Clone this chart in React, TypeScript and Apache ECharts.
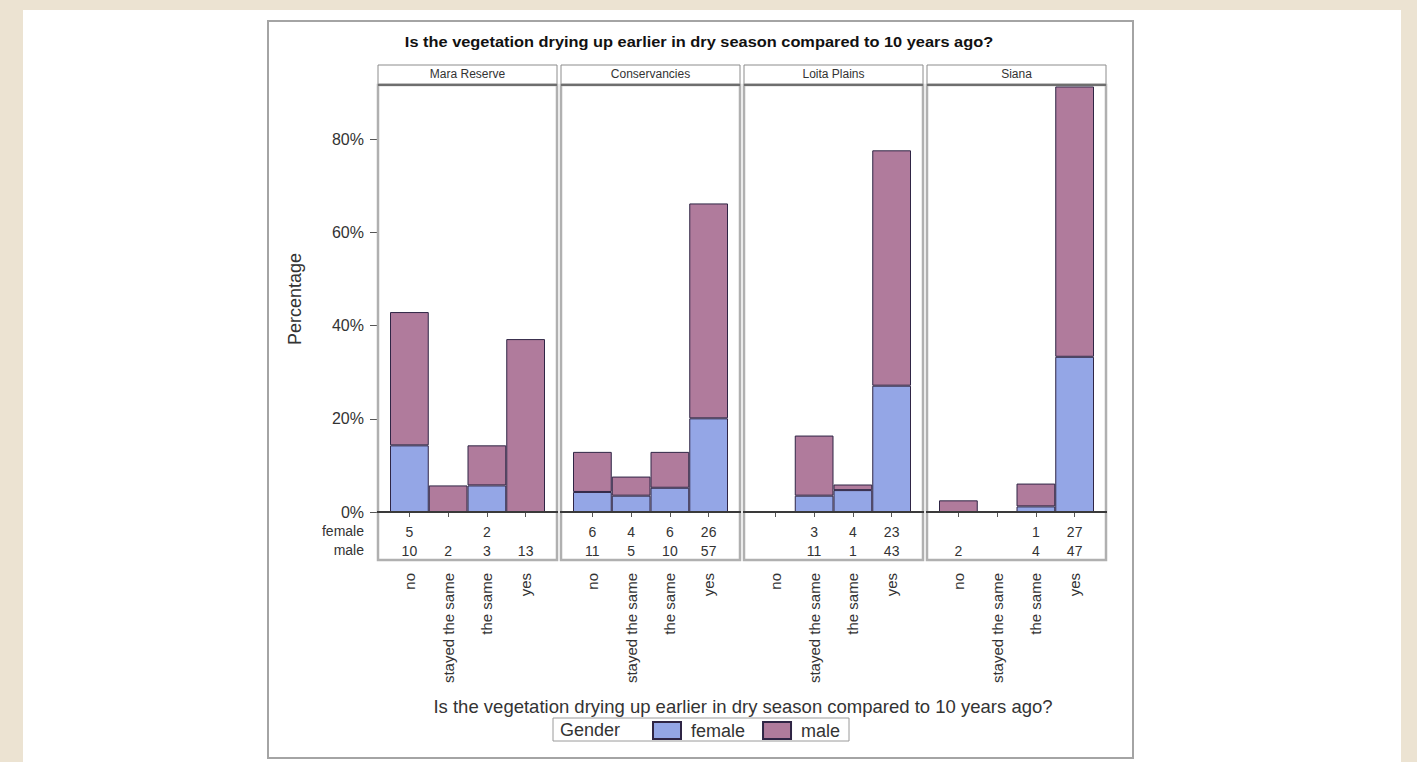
import React, { useEffect, useRef } from "react";
import * as echarts from "echarts";

const panels = ["Mara Reserve", "Conservancies", "Loita Plains", "Siana"];
const categories = ["no", "stayed the same", "the same", "yes"];

// percentages (per panel, per category)
const femalePct: (number | null)[][] = [
  [14.3, null, 5.7, null],
  [4.3, 3.5, 5.2, 20.1],
  [null, 3.5, 4.7, 27.1],
  [null, null, 1.2, 33.3],
];
const malePct: (number | null)[][] = [
  [28.6, 5.7, 8.6, 37.1],
  [8.6, 4.1, 7.7, 46.1],
  [null, 12.9, 1.2, 50.5],
  [2.5, null, 4.9, 58.0],
];

// counts printed under the bars
const femaleCount: (number | null)[][] = [
  [5, null, 2, null],
  [6, 4, 6, 26],
  [null, 3, 4, 23],
  [null, null, 1, 27],
];
const maleCount: (number | null)[][] = [
  [10, 2, 3, 13],
  [11, 5, 10, 57],
  [null, 11, 1, 43],
  [2, null, 4, 47],
];

const yTicks = [0, 20, 40, 60, 80];
const Y_MAX = 91.4;
const TITLE = "Is the vegetation drying up earlier in dry season compared to 10 years ago?";
const X_TITLE = "Is the vegetation drying up earlier in dry season compared to 10 years ago?";

const FEMALE = "#94a6e6";
const MALE = "#b07b9c";
const EDGE = "#2f2545";
const FONT = "'Liberation Sans', Arial, sans-serif";

const PANEL_LEFT = [378, 561, 744, 927];
const PANEL_W = 179;
const PAD = 12;
const HEADER_TOP = 65;
const PLOT_TOP = 86;
const BASE_Y = 512;
const TABLE_BOTTOM = 560;

export default function App() {
  const ref = useRef<HTMLDivElement>(null);
  useEffect(() => {
    if (!ref.current) return;
    const chart = echarts.init(ref.current, null, { renderer: "svg" });

    const grids = panels.map((_, i) => ({
      left: PANEL_LEFT[i] + PAD,
      top: PLOT_TOP,
      width: PANEL_W - 2 * PAD,
      height: BASE_Y - PLOT_TOP,
    }));

    const xAxes: any[] = [];
    panels.forEach((_, i) => {
      xAxes.push({
        type: "category",
        gridIndex: i,
        data: categories,
        position: "bottom",
        offset: TABLE_BOTTOM - BASE_Y,
        axisLine: { show: false },
        axisTick: { show: true, alignWithLabel: true, length: 5, lineStyle: { color: "#555" } },
        axisLabel: { rotate: 90, interval: 0, fontSize: 15, color: "#333", margin: 13, fontFamily: FONT },
      });
      xAxes.push({
        type: "category",
        gridIndex: i,
        data: categories,
        position: "bottom",
        offset: 0,
        axisLine: { show: false },
        axisTick: { show: false },
        axisLabel: {
          interval: 0,
          margin: 10,
          fontSize: 14,
          lineHeight: 19,
          color: "#333",
          fontFamily: FONT,
          formatter: (_v: string, idx: number) => {
            const f = femaleCount[i][idx];
            const m = maleCount[i][idx];
            return `${f == null ? " " : f}\n${m == null ? " " : m}`;
          },
        },
      });
    });

    const yAxes = panels.map((_, i) => ({
      type: "value",
      gridIndex: i,
      min: 0,
      max: Y_MAX,
      offset: PAD,
      splitLine: { show: false },
      axisLine: { show: false },
      axisTick: {
        show: i === 0,
        length: 8,
        customValues: yTicks,
        lineStyle: { color: "#555" },
      },
      axisLabel: {
        show: i === 0,
        customValues: yTicks,
        formatter: (v: number) => `${v}%`,
        fontSize: 16,
        color: "#333",
        margin: 14,
        fontFamily: FONT,
      },
      name: i === 0 ? "Percentage" : "",
      nameLocation: "middle",
      nameRotate: 90,
      nameGap: 74,
      nameTextStyle: { fontSize: 18, color: "#333", fontFamily: FONT },
    }));

    const series: any[] = [];
    panels.forEach((_, i) => {
      series.push({
        type: "bar",
        name: "female",
        stack: "p" + i,
        xAxisIndex: 2 * i,
        yAxisIndex: i,
        barWidth: "100%",
        data: femalePct[i],
        itemStyle: { color: FEMALE, borderColor: EDGE, borderWidth: 1 },
        z: 3,
      });
      series.push({
        type: "bar",
        name: "male",
        stack: "p" + i,
        xAxisIndex: 2 * i,
        yAxisIndex: i,
        barWidth: "100%",
        data: malePct[i],
        itemStyle: { color: MALE, borderColor: EDGE, borderWidth: 1 },
        z: 3,
      });
    });

    const graphics: any[] = [
      { type: "rect", z: -10, shape: { x: 23, y: 10, width: 1378, height: 752 }, style: { fill: "#ffffff" } },
      {
        type: "rect",
        z: -9,
        shape: { x: 268, y: 21, width: 865, height: 737 },
        style: { fill: "none", stroke: "#a4a4a4", lineWidth: 2 },
      },
      {
        type: "text",
        z: 5,
        x: 699,
        y: 42,
        scaleX: 1.17,
        style: { text: TITLE, font: `bold 14px ${FONT}`, fill: "#111", textAlign: "center", textVerticalAlign: "middle" },
      },
      {
        type: "text",
        z: 5,
        x: 743,
        y: 706,
        style: { text: X_TITLE, font: `18.5px ${FONT}`, fill: "#333", textAlign: "center", textVerticalAlign: "middle" },
      },
      {
        type: "text",
        z: 5,
        x: 364,
        y: 531,
        style: { text: "female", font: `14px ${FONT}`, fill: "#333", textAlign: "right", textVerticalAlign: "middle" },
      },
      {
        type: "text",
        z: 5,
        x: 364,
        y: 550,
        style: { text: "male", font: `14px ${FONT}`, fill: "#333", textAlign: "right", textVerticalAlign: "middle" },
      },
      {
        type: "rect",
        z: 1,
        shape: { x: 553, y: 718, width: 296, height: 23 },
        style: { fill: "#fff", stroke: "#9a9a9a", lineWidth: 1 },
      },
      {
        type: "text",
        z: 5,
        x: 560,
        y: 730,
        style: { text: "Gender", font: `18px ${FONT}`, fill: "#333", textAlign: "left", textVerticalAlign: "middle" },
      },
    ];

    panels.forEach((name, i) => {
      const x = PANEL_LEFT[i];
      graphics.push({
        type: "rect",
        z: 1,
        shape: { x, y: HEADER_TOP, width: PANEL_W, height: PLOT_TOP - HEADER_TOP - 2 },
        style: { fill: "#fff", stroke: "#8c8c8c", lineWidth: 1 },
      });
      graphics.push({
        type: "text",
        z: 5,
        x: x + PANEL_W / 2,
        y: HEADER_TOP + 9,
        style: { text: name, font: `12px ${FONT}`, fill: "#333", textAlign: "center", textVerticalAlign: "middle" },
      });
      graphics.push({
        type: "rect",
        z: 1,
        shape: { x, y: PLOT_TOP - 1, width: PANEL_W, height: TABLE_BOTTOM - PLOT_TOP + 1 },
        style: { fill: "none", stroke: "#b0b0b0", lineWidth: 2.5 },
      });
      graphics.push({
        type: "line",
        z: 6,
        shape: { x1: x, y1: PLOT_TOP - 1, x2: x + PANEL_W, y2: PLOT_TOP - 1 },
        style: { stroke: "#6e6e6e", lineWidth: 2 },
      });
      graphics.push({
        type: "line",
        z: 6,
        shape: { x1: x - 1, y1: BASE_Y, x2: x + PANEL_W + 1, y2: BASE_Y },
        style: { stroke: "#3a3a3a", lineWidth: 2 },
      });
    });

    chart.setOption({
      animation: false,
      backgroundColor: "#ece3d2",
      grid: grids,
      xAxis: xAxes,
      yAxis: yAxes,
      series,
      legend: {
        data: ["female", "male"],
        left: 652,
        top: 721,
        itemWidth: 28,
        itemHeight: 17,
        itemGap: 17,
        icon: "rect",
        padding: 0,
        textStyle: { fontSize: 18, color: "#333", fontFamily: FONT, padding: [0, 0, 0, 5] },
      },
      graphic: graphics,
    });

    return () => chart.dispose();
  }, []);

  return (
    <div
      ref={ref}
      style={{ position: "fixed", left: 0, top: 0, width: 1417, height: 762 }}
    />
  );
}
